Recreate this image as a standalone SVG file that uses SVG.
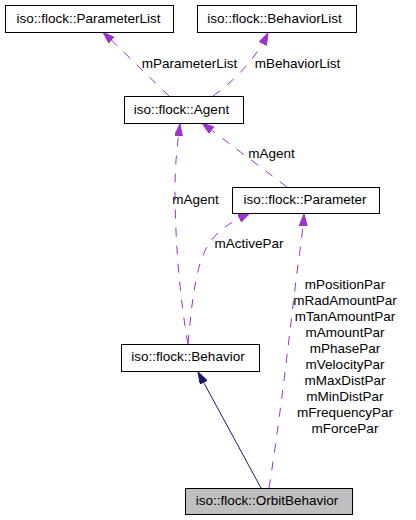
<svg xmlns="http://www.w3.org/2000/svg" width="416" height="520" viewBox="0 0 416 520">
<defs>
<style>
text{font-family:"Liberation Sans",Arial,Helvetica,sans-serif;font-size:13.5px;fill:#000}
.box{fill:#fff;stroke:#000;stroke-width:1}
.cur{fill:#bfbfbf;stroke:#000;stroke-width:1}
.use{fill:none;stroke:#9a32cd;stroke-width:1;stroke-dasharray:9,9}
.inh{fill:none;stroke:#191970;stroke-width:1}
.c{text-anchor:middle}
</style>
<marker id="ap" markerUnits="userSpaceOnUse" markerWidth="13" markerHeight="9" refX="12" refY="4" orient="auto"><path d="M0,0 L12,4 L0,8 z" fill="#9a32cd" stroke="#9a32cd"/></marker>
<marker id="an" markerUnits="userSpaceOnUse" markerWidth="13" markerHeight="9" refX="12" refY="4" orient="auto"><path d="M0,0 L12,4 L0,8 z" fill="#191970" stroke="#191970"/></marker>
</defs>
<rect width="416" height="520" fill="#fff"/>
<g id="connectors">
<path class="use" d="M169,96 L103,32" marker-end="url(#ap)"/>
<path class="use" d="M213,96 C235,80 255,60 268,33" marker-end="url(#ap)"/>
<path class="use" d="M287,187 L202,123" marker-end="url(#ap)"/>
<path class="use" d="M188,344 C180,300 175,240 175,190 C175,160 178,140 180,124" marker-end="url(#ap)"/>
<path class="use" d="M188,344 C192,300 196,262 210,242 C222,226 238,219 250,213" marker-end="url(#ap)"/>
<path class="use" d="M269,488 C280,420 290,330 296,280 C300,250 303,230 304,214" marker-end="url(#ap)"/>
<path class="inh" d="M261,488 L198,372" marker-end="url(#an)"/>
<text class="c" x="189.5" y="68">mParameterList</text>
<text class="c" x="297.5" y="68">mBehaviorList</text>
<text class="c" x="271.5" y="158">mAgent</text>
<text class="c" x="195.5" y="204">mAgent</text>
<text class="c" x="249" y="248">mActivePar</text>
<text class="c" x="345" y="289">mPositionPar</text>
<text class="c" x="345" y="305">mRadAmountPar</text>
<text class="c" x="345" y="321">mTanAmountPar</text>
<text class="c" x="345" y="337">mAmountPar</text>
<text class="c" x="345" y="353">mPhasePar</text>
<text class="c" x="345" y="369">mVelocityPar</text>
<text class="c" x="345" y="385">mMaxDistPar</text>
<text class="c" x="345" y="401">mMinDistPar</text>
<text class="c" x="345" y="417">mFrequencyPar</text>
<text class="c" x="345" y="433">mForcePar</text>
</g>
<g id="ParameterList"><rect class="box" x="5.5" y="5.5" width="168" height="27"/><text class="c" x="88.5" y="23">iso::flock::ParameterList</text></g>
<g id="BehaviorList"><rect class="box" x="197.5" y="5.5" width="159" height="27"/><text class="c" x="274.5" y="23">iso::flock::BehaviorList</text></g>
<g id="Agent"><rect class="box" x="124.5" y="96.5" width="119" height="27"/><text class="c" x="181.5" y="114">iso::flock::Agent</text></g>
<g id="Parameter"><rect class="box" x="232.5" y="187.5" width="147" height="26"/><text class="c" x="305" y="204">iso::flock::Parameter</text></g>
<g id="Behavior"><rect class="box" x="121.5" y="344.5" width="138" height="27"/><text class="c" x="188" y="361">iso::flock::Behavior</text></g>
<g id="OrbitBehavior"><rect class="cur" x="185.5" y="488.5" width="167" height="26"/><text class="c" x="267" y="505">iso::flock::OrbitBehavior</text></g>
</svg>
